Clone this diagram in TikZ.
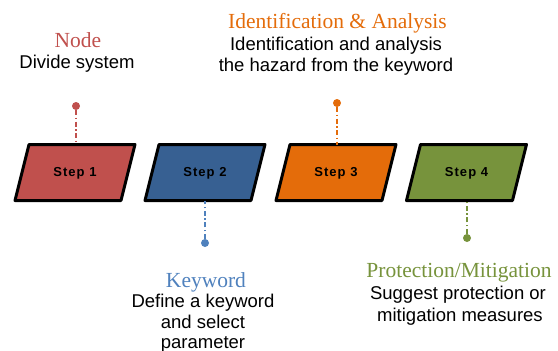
\documentclass[tikz,border=0pt]{standalone}
\usepackage{fontspec}
\setmainfont{Liberation Serif}
\setsansfont{Liberation Sans}
\newfontfamily\stepfont[LetterSpace=8]{Liberation Sans}
\usetikzlibrary{calc}
\definecolor{cred}{HTML}{C0504D}
\definecolor{cblue}{HTML}{376092}
\definecolor{cblue2}{HTML}{4F81BD}
\definecolor{corange}{HTML}{E46C0A}
\definecolor{cgreen}{HTML}{77933C}
\tikzset{
  boxline/.style={draw=black, line width=3pt, line join=round},
  steptext/.style={font=\stepfont\bfseries\fontsize{13}{15}\selectfont, text=black, inner sep=0pt},
  head/.style={font=\rmfamily\fontsize{21.5}{24}\selectfont, anchor=base, inner sep=0pt},
  body/.style={font=\sffamily\fontsize{18.5}{21}\selectfont, anchor=base, inner sep=0pt, text=black},
  dotnode/.style={circle, inner sep=0pt, minimum size=8pt},
  dashdot/.style={line width=1.1pt, dash pattern=on 5pt off 2.5pt on 1.5pt off 2.5pt},
}
\begin{document}
\begin{tikzpicture}[x=1pt,y=-1pt]
\useasboundingbox (0,0) rectangle (558,351);
% step boxes
\foreach \n/\cx/\col in {1/75/cred, 2/205/cblue, 3/336/corange, 4/466.5/cgreen}{
  \coordinate (c\n) at (\cx,172.5);
  \fill[\col] ($(c\n)+(-46,-28)$) -- ($(c\n)+(60,-28)$) -- ($(c\n)+(46,28)$) -- ($(c\n)+(-60,28)$) -- cycle;
  \draw[boxline] ($(c\n)+(-46,-28)$) -- ($(c\n)+(60,-28)$) -- ($(c\n)+(46,28)$) -- ($(c\n)+(-60,28)$) -- cycle;
}
\node[steptext] (s1) at (75,173) {Step 1};
\node[steptext] (s2) at (205,173) {Step 2};
\node[steptext] (s3) at (336,173) {Step 3};
\node[steptext] (s4) at (466.5,173) {Step 4};
% connector ends on boxes
\coordinate (t1) at (76,144.5);
\coordinate (t3) at (337,144.5);
\coordinate (b2) at (205,200.5);
\coordinate (b4) at (467,200.5);
% dots
\node[dotnode, fill=cred] (d1) at (76,106) {};
\node[dotnode, fill=corange] (d3) at (337,103) {};
\node[dotnode, fill=cblue2] (d2) at (205,243) {};
\node[dotnode, fill=cgreen] (d4) at (467,238) {};
\draw[dashdot, cred] (d1) -- (t1);
\draw[dashdot, corange] (d3) -- (t3);
\draw[dashdot, cblue2] (d2) -- (b2);
\draw[dashdot, cgreen] (d4) -- (b4);
% texts
\node[head, text=cred] (h1) at (78,47) {Node};
\node[body] (p1) at (77,68) {Divide system};
\node[head, text=corange] (h3) at (337.5,28) {Identification \& Analysis};
\node[body] (p3a) at (336,50) {Identification and analysis};
\node[body] (p3b) at (336,71) {the hazard from the keyword};
\node[head, text=cblue2] (h2) at (206,287) {Keyword};
\node[body] (p2a) at (203,307) {Define a keyword};
\node[body] (p2b) at (203,328) {and select};
\node[body] (p2c) at (203,348) {parameter};
\node[head, text=cgreen] (h4) at (459,277) {Protection/Mitigation};
\node[body] (p4a) at (458,299) {Suggest protection or};
\node[body] (p4b) at (460,321) {mitigation measures};
\end{tikzpicture}
\end{document}
